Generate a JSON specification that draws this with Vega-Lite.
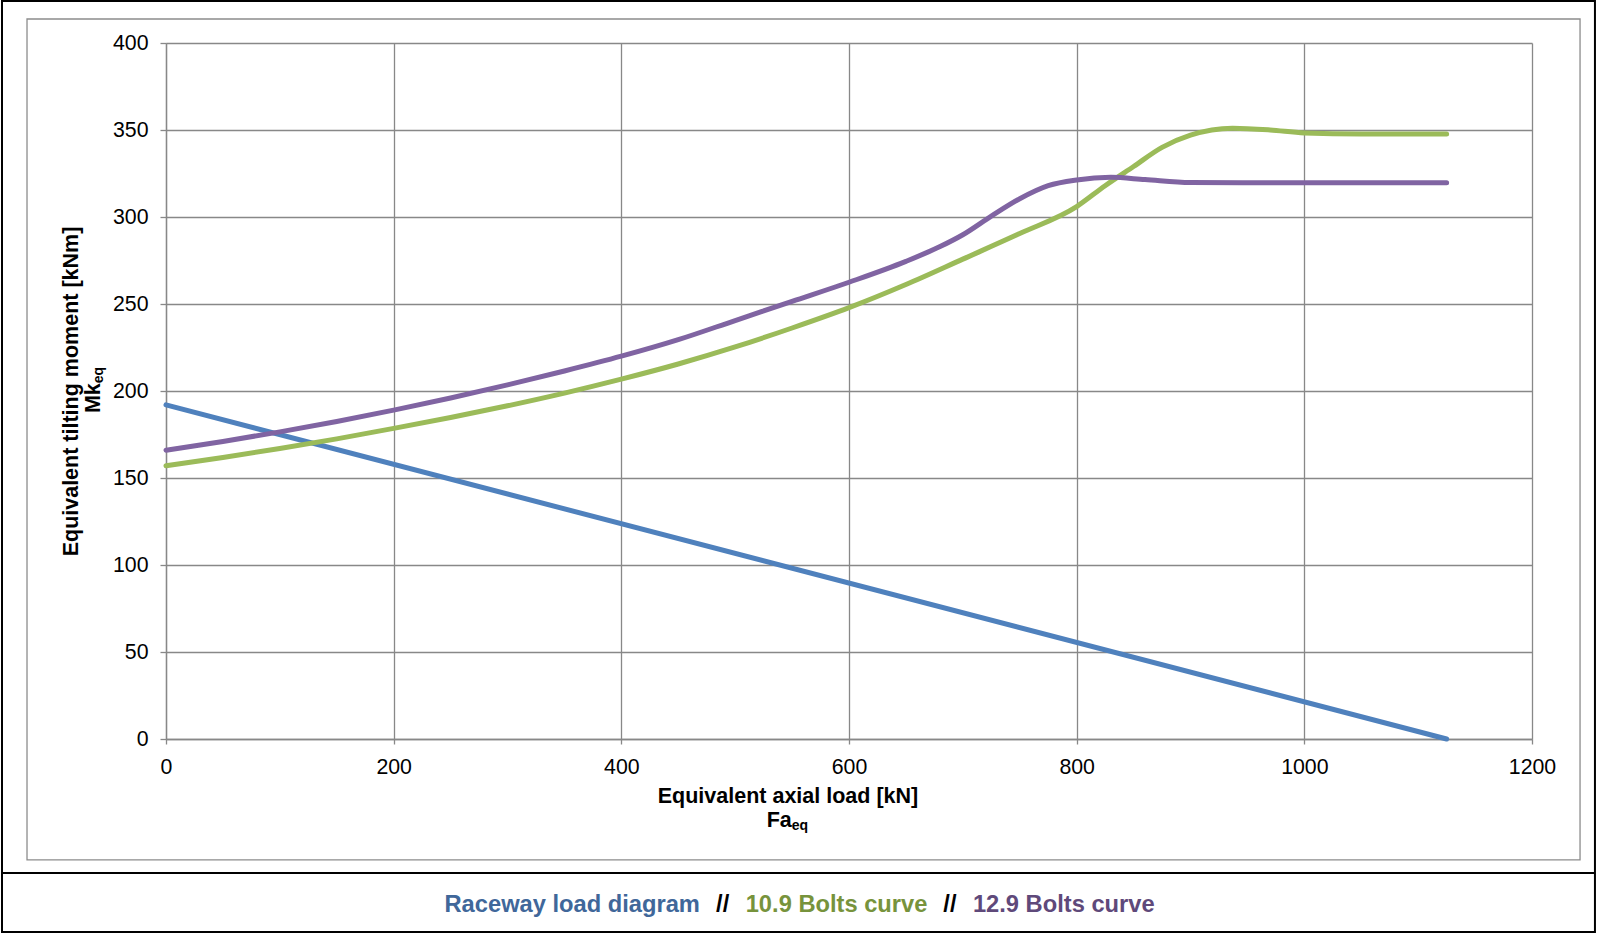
{
  "$schema": "https://vega.github.io/schema/vega-lite/v6.json",
  "width": 1366,
  "height": 696,
  "autosize": {"type": "none"},
  "padding": {"left": 166, "top": 43, "right": 65, "bottom": 194},
  "background": "white",
  "config": {"view": {"stroke": null}, "font": "Liberation Sans"},
  "layer": [
    {
      "data": {
        "values": [
          {"x": 0, "y": 192, "series": "Raceway load diagram"},
          {"x": 1125, "y": 0, "series": "Raceway load diagram"},
          {"x": 0, "y": 157, "series": "10.9 Bolts curve"},
          {"x": 50, "y": 161.8, "series": "10.9 Bolts curve"},
          {"x": 100, "y": 167, "series": "10.9 Bolts curve"},
          {"x": 150, "y": 172.5, "series": "10.9 Bolts curve"},
          {"x": 200, "y": 178.5, "series": "10.9 Bolts curve"},
          {"x": 250, "y": 184.8, "series": "10.9 Bolts curve"},
          {"x": 300, "y": 191.5, "series": "10.9 Bolts curve"},
          {"x": 350, "y": 198.8, "series": "10.9 Bolts curve"},
          {"x": 400, "y": 206.8, "series": "10.9 Bolts curve"},
          {"x": 450, "y": 215.5, "series": "10.9 Bolts curve"},
          {"x": 500, "y": 225.3, "series": "10.9 Bolts curve"},
          {"x": 550, "y": 236.2, "series": "10.9 Bolts curve"},
          {"x": 600, "y": 247.9, "series": "10.9 Bolts curve"},
          {"x": 650, "y": 261.2, "series": "10.9 Bolts curve"},
          {"x": 700, "y": 275.8, "series": "10.9 Bolts curve"},
          {"x": 750, "y": 290.5, "series": "10.9 Bolts curve"},
          {"x": 800, "y": 306, "series": "10.9 Bolts curve"},
          {"x": 825, "y": 318, "series": "10.9 Bolts curve"},
          {"x": 850, "y": 329, "series": "10.9 Bolts curve"},
          {"x": 875, "y": 340, "series": "10.9 Bolts curve"},
          {"x": 900, "y": 347, "series": "10.9 Bolts curve"},
          {"x": 937, "y": 351, "series": "10.9 Bolts curve"},
          {"x": 970, "y": 350, "series": "10.9 Bolts curve"},
          {"x": 1000, "y": 348.3, "series": "10.9 Bolts curve"},
          {"x": 1050, "y": 347.7, "series": "10.9 Bolts curve"},
          {"x": 1125, "y": 347.7, "series": "10.9 Bolts curve"},
          {"x": 0, "y": 166, "series": "12.9 Bolts curve"},
          {"x": 50, "y": 171, "series": "12.9 Bolts curve"},
          {"x": 100, "y": 176.5, "series": "12.9 Bolts curve"},
          {"x": 150, "y": 182.5, "series": "12.9 Bolts curve"},
          {"x": 200, "y": 189, "series": "12.9 Bolts curve"},
          {"x": 250, "y": 196, "series": "12.9 Bolts curve"},
          {"x": 300, "y": 203.5, "series": "12.9 Bolts curve"},
          {"x": 350, "y": 211.5, "series": "12.9 Bolts curve"},
          {"x": 400, "y": 220, "series": "12.9 Bolts curve"},
          {"x": 450, "y": 229.5, "series": "12.9 Bolts curve"},
          {"x": 500, "y": 240.5, "series": "12.9 Bolts curve"},
          {"x": 550, "y": 251.5, "series": "12.9 Bolts curve"},
          {"x": 600, "y": 262.5, "series": "12.9 Bolts curve"},
          {"x": 650, "y": 274.5, "series": "12.9 Bolts curve"},
          {"x": 680, "y": 283, "series": "12.9 Bolts curve"},
          {"x": 700, "y": 289.8, "series": "12.9 Bolts curve"},
          {"x": 725, "y": 300.5, "series": "12.9 Bolts curve"},
          {"x": 750, "y": 310.5, "series": "12.9 Bolts curve"},
          {"x": 775, "y": 318, "series": "12.9 Bolts curve"},
          {"x": 800, "y": 321.3, "series": "12.9 Bolts curve"},
          {"x": 830, "y": 322.8, "series": "12.9 Bolts curve"},
          {"x": 860, "y": 321.5, "series": "12.9 Bolts curve"},
          {"x": 900, "y": 319.8, "series": "12.9 Bolts curve"},
          {"x": 1000, "y": 319.7, "series": "12.9 Bolts curve"},
          {"x": 1125, "y": 319.7, "series": "12.9 Bolts curve"}
        ]
      },
      "mark": {"type": "line", "strokeWidth": 5, "strokeCap": "round", "interpolate": "monotone"},
      "encoding": {
        "x": {
          "field": "x", "type": "quantitative",
          "scale": {"domain": [0, 1200], "nice": false, "zero": false},
          "axis": {
            "title": "Equivalent axial load [kN]",
            "values": [0, 200, 400, 600, 800, 1000, 1200],
            "format": "d",
            "grid": true, "gridColor": "#888888", "gridWidth": 1.3,
            "domainColor": "#888888", "domainWidth": 1.3,
            "tickColor": "#888888", "tickWidth": 1.3, "tickSize": 5,
            "labelFont": "Liberation Sans", "labelFontSize": 21.3, "labelColor": "#000000",
            "labelPadding": 12, "labelFlush": false, "labelOverlap": false,
            "titleFont": "Liberation Sans", "titleFontSize": 21.5, "titleFontWeight": "bold", "titleColor": "#000000",
            "titleX": 621.5, "titleY": 63, "titleBaseline": "alphabetic", "titleAlign": "center"
          }
        },
        "y": {
          "field": "y", "type": "quantitative",
          "scale": {"domain": [0, 400], "nice": false, "zero": false},
          "axis": {
            "title": "Equivalent tilting moment [kNm]",
            "values": [0, 50, 100, 150, 200, 250, 300, 350, 400],
            "format": "d",
            "grid": true, "gridColor": "#888888", "gridWidth": 1.3,
            "domainColor": "#888888", "domainWidth": 1.3,
            "tickColor": "#888888", "tickWidth": 1.3, "tickSize": 6,
            "labelFont": "Liberation Sans", "labelFontSize": 21.3, "labelColor": "#000000",
            "labelPadding": 12, "labelFlush": false, "labelOverlap": false,
            "titleFont": "Liberation Sans", "titleFontSize": 21.5, "titleFontWeight": "bold", "titleColor": "#000000",
            "titleAngle": 270, "titleX": -89, "titleY": 348, "titleBaseline": "alphabetic", "titleAlign": "center"
          }
        },
        "color": {
          "field": "series", "type": "nominal",
          "scale": {
            "domain": ["Raceway load diagram", "sep1", "10.9 Bolts curve", "sep2", "12.9 Bolts curve"],
            "range": ["#4F81BD", "#000000", "#9BBB59", "#000000", "#8064A2"]
          },
          "legend": {
            "orient": "none", "legendX": 278.5, "legendY": 850,
            "direction": "horizontal", "title": null, "padding": 0,
            "symbolSize": 0, "symbolStrokeWidth": 0, "symbolOpacity": 0,
            "labelOffset": -23.7, "columnPadding": 15.6,
            "labelFont": "Liberation Sans", "labelFontSize": 23.7, "labelFontWeight": "bold", "labelLimit": 0,
            "labelExpr": "datum.value == 'sep1' || datum.value == 'sep2' ? '//' : datum.label",
            "labelColor": {"expr": "datum.value === 'Raceway load diagram' ? '#40679A' : datum.value === '10.9 Bolts curve' ? '#77933C' : datum.value === '12.9 Bolts curve' ? '#5F497A' : '#000000'"}
          }
        }
      }
    },
    {
      "data": {"values": [{}]},
      "mark": {"type": "rect", "filled": false, "stroke": "#8c8c8c", "strokeWidth": 1.3, "clip": false},
      "encoding": {
        "x": {"datum": -122.1, "type": "quantitative"},
        "x2": {"datum": 1242.2},
        "y": {"datum": 413.8, "type": "quantitative"},
        "y2": {"datum": -69.5}
      }
    },
    {
      "data": {"values": [{}]},
      "mark": {"type": "rect", "filled": false, "stroke": "#000000", "strokeWidth": 2, "clip": false},
      "encoding": {
        "x": {"datum": -144.07, "type": "quantitative"},
        "x2": {"datum": 1255.3},
        "y": {"datum": 424.1, "type": "quantitative"},
        "y2": {"datum": -110.9}
      }
    },
    {
      "data": {"values": [{}]},
      "mark": {"type": "rule", "stroke": "#000000", "strokeWidth": 2, "clip": false},
      "encoding": {
        "x": {"datum": -144.07, "type": "quantitative"},
        "x2": {"datum": 1255.3},
        "y": {"datum": -77.0, "type": "quantitative"}
      }
    },
    {
      "data": {"values": [{}]},
      "mark": {"type": "text", "text": "Fa", "font": "Liberation Sans", "fontSize": 21.5, "fontWeight": "bold", "color": "#000000", "align": "right", "baseline": "alphabetic", "clip": false},
      "encoding": {
        "x": {"datum": 549.7, "type": "quantitative"},
        "y": {"datum": -50.6, "type": "quantitative"}
      }
    },
    {
      "data": {"values": [{}]},
      "mark": {"type": "text", "text": "eq", "font": "Liberation Sans", "fontSize": 14, "fontWeight": "bold", "color": "#000000", "align": "left", "baseline": "alphabetic", "clip": false},
      "encoding": {
        "x": {"datum": 549.7, "type": "quantitative"},
        "y": {"datum": -52.3, "type": "quantitative"}
      }
    },
    {
      "data": {"values": [{}]},
      "mark": {"type": "text", "text": "Mk", "font": "Liberation Sans", "fontSize": 21.5, "fontWeight": "bold", "color": "#000000", "align": "right", "baseline": "alphabetic", "angle": 270, "clip": false},
      "encoding": {
        "x": {"datum": -58.0, "type": "quantitative"},
        "y": {"datum": 204.5, "type": "quantitative"}
      }
    },
    {
      "data": {"values": [{}]},
      "mark": {"type": "text", "text": "eq", "font": "Liberation Sans", "fontSize": 14, "fontWeight": "bold", "color": "#000000", "align": "left", "baseline": "alphabetic", "angle": 270, "clip": false},
      "encoding": {
        "x": {"datum": -55.3, "type": "quantitative"},
        "y": {"datum": 204.5, "type": "quantitative"}
      }
    }
  ]
}
